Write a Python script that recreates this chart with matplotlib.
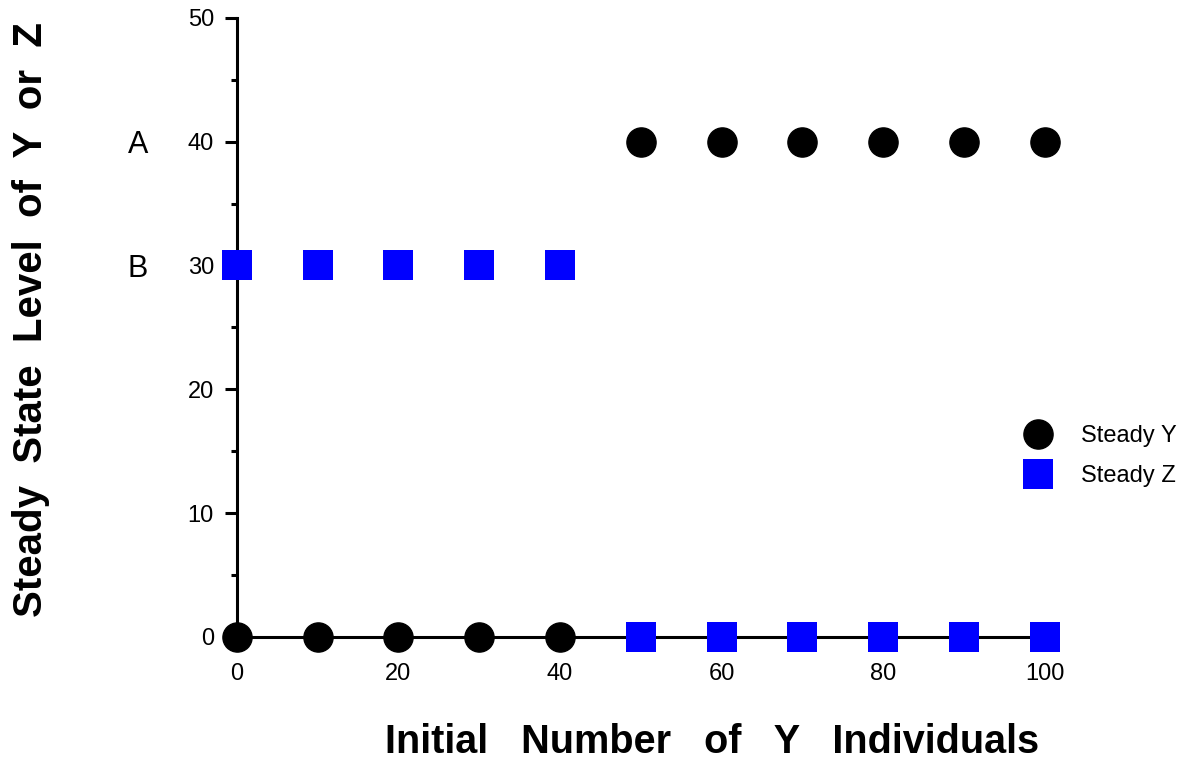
import matplotlib.pyplot as plt
from matplotlib.ticker import MultipleLocator

plt.rcParams['font.family'] = ['Liberation Sans', 'DejaVu Sans']

initial_y = [0, 10, 20, 30, 40, 50, 60, 70, 80, 90, 100]
steady_y = [0, 0, 0, 0, 0, 40, 40, 40, 40, 40, 40]
steady_z = [30, 30, 30, 30, 30, 0, 0, 0, 0, 0, 0]
x_ticks = [0, 20, 40, 60, 80, 100]
y_ticks = [0, 10, 20, 30, 40, 50]
side_marks = [("A", 40), ("B", 30)]

fig = plt.figure(figsize=(11.9, 7.6), dpi=100)
ax = fig.add_axes([0.199, 0.162, 0.679, 0.8145])

ax.plot(initial_y, steady_y, 'o', color='black', markersize=21,
        clip_on=False, zorder=4, label='Steady Y')
ax.plot(initial_y, steady_z, 's', color='blue', markersize=21.5,
        markeredgewidth=0, clip_on=False, zorder=3, label='Steady Z')

ax.set_xlim(0, 100)
ax.set_ylim(0, 50)
ax.set_xticks(x_ticks)
ax.set_yticks(y_ticks)
ax.yaxis.set_minor_locator(MultipleLocator(5))

for s in ['top', 'right']:
    ax.spines[s].set_visible(False)
for s in ['left', 'bottom']:
    ax.spines[s].set_linewidth(2.2)

ax.tick_params(axis='y', which='major', length=8.5, width=2.2, labelsize=17, pad=8)
ax.tick_params(axis='y', which='minor', length=4, width=2.2)
ax.tick_params(axis='x', which='major', length=0, labelsize=17, pad=19)

for lab, val in side_marks:
    ax.text(-0.1225, val, lab, transform=ax.get_yaxis_transform(),
            ha='center', va='center_baseline', fontsize=22)

ax.set_xlabel('Initial   Number   of   Y   Individuals', fontsize=28.5, fontweight='bold')
ax.set_ylabel('Steady  State  Level  of  Y  or  Z', fontsize=29, fontweight='bold')
ax.xaxis.set_label_coords(0.588, -0.139)
ax.yaxis.set_label_coords(-0.2314, 0.512)

ax.legend(loc='center left', bbox_to_anchor=(0.951, 0.292), frameon=False,
          fontsize=17, handletextpad=0.8, labelspacing=0.75, markerscale=1.0,
          borderaxespad=0)

fig.savefig('out.png', dpi=100)
